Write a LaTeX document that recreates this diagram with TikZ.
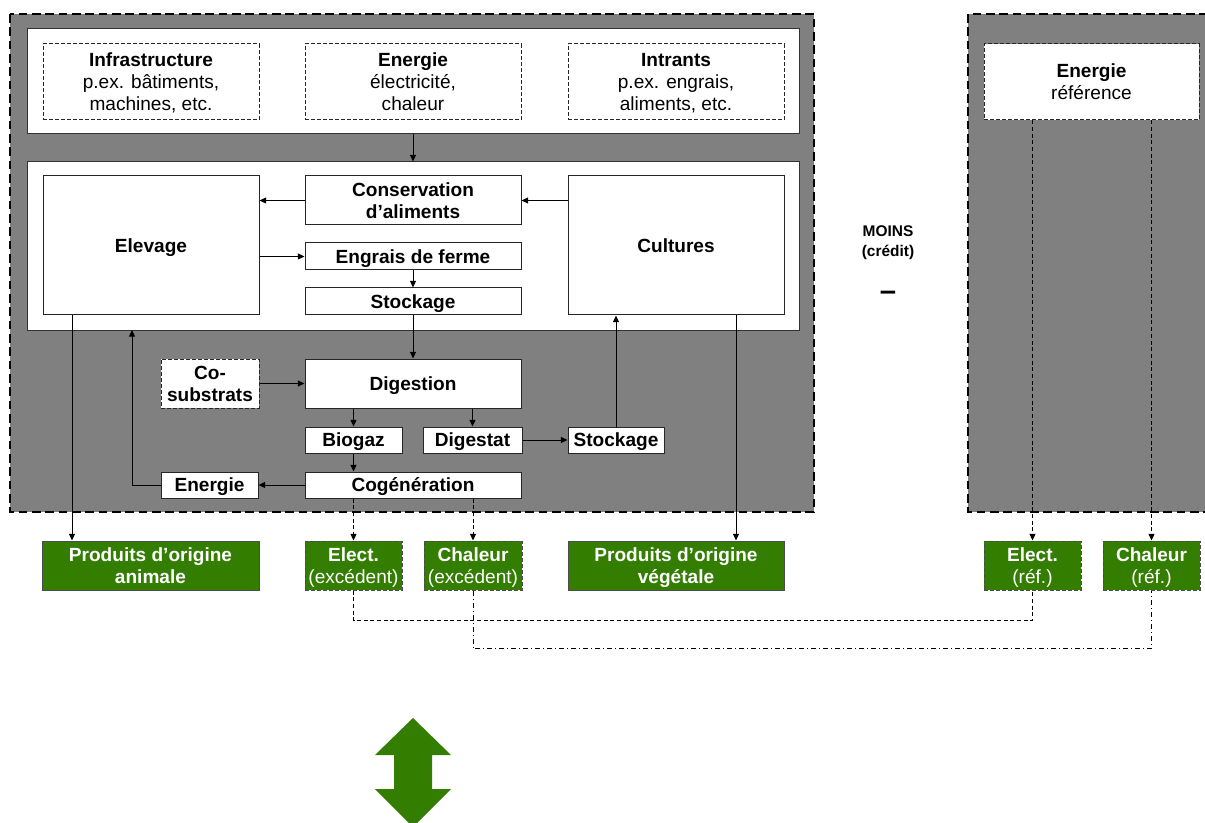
\documentclass[tikz,border=0pt]{standalone}
\usepackage{fontspec}
\setmainfont{Liberation Sans}
\usetikzlibrary{arrows.meta}

\definecolor{panelgris}{RGB}{128,128,128}
\definecolor{vertprod}{RGB}{51,125,0}
\newcommand{\police}{\fontsize{14.3}{16.5}\selectfont}
\newcommand{\policemoins}{\fontsize{11.6}{15}\selectfont}

\tikzset{
  panneau/.style={fill=panelgris, draw=black, line width=1.5pt, dash pattern=on 6.5pt off 3.5pt},
  cadre/.style={draw=black!80, fill=white, line width=0.75pt, inner sep=0pt},
  boite/.style={draw=black!85, fill=white, line width=0.75pt, inner sep=0pt, text depth=0pt, align=center, font=\police\bfseries},
  boitetir/.style={boite, dash pattern=on 3pt off 1.5pt},
  produit/.style={draw=black!70, fill=vertprod, text=white, line width=0.75pt, inner sep=0pt, text depth=0pt, align=center, font=\police\bfseries},
  produittir/.style={produit, dash pattern=on 3pt off 1.5pt},
  fleche/.style={-{Triangle[length=5pt,width=4.5pt]}, line width=0.75pt},
  flechetir/.style={fleche, dash pattern=on 3pt off 2pt},
  liaison/.style={line width=0.75pt, dash pattern=on 3pt off 2pt},
  liaisonpt/.style={line width=0.75pt, dash pattern=on 4pt off 2pt on 1pt off 2pt}
}

\begin{document}
\begin{tikzpicture}[x=0.75pt,y=0.75pt,yscale=-1,xscale=1]
        \clip (0,0) rectangle (1205,823);

        %Panels
        \draw [panneau] (10,14) rectangle (814,512);
        \draw [panneau] (968,14) rectangle (1230,512);

        %White frames
        \draw (413,81.5) node [cadre, minimum width=579pt, minimum height=78.75pt] (apports) {};
        \draw (413,246) node [cadre, minimum width=579pt, minimum height=126pt] (ferme) {};

        % Inputs
        \draw (151,82) node [boitetir, minimum width=162pt, minimum height=57pt] (infra) {Infrastructure\\ \textmd{p.ex. bâtiments,}\\ \textmd{machines, etc.}};
        \draw (413,82) node [boitetir, minimum width=162pt, minimum height=57pt] (energie) {Energie\\ \textmd{électricité,}\\ \textmd{chaleur}};
        \draw (676,82) node [boitetir, minimum width=162pt, minimum height=57pt] (intrants) {Intrants\\ \textmd{p.ex. engrais,}\\ \textmd{aliments, etc.}};

        % Farm
        \draw (151,245.5) node [boite, minimum width=162pt, minimum height=104.25pt] (elevage) {Elevage};
        \draw (413,200.5) node [boite, minimum width=162pt, minimum height=36.75pt] (conserv) {Conservation\\ d’aliments};
        \draw (413,256.5) node [boite, minimum width=162pt, minimum height=20.25pt] (engrais) {Engrais de ferme};
        \draw (413,301.5) node [boite, minimum width=162pt, minimum height=20.25pt] (stock) {Stockage};
        \draw (676,245.5) node [boite, minimum width=162pt, minimum height=104.25pt] (cultures) {Cultures};

        % Biogas plant
        \draw (413,383.5) node [boite, minimum width=162pt, minimum height=36.75pt] (digestion) {Digestion};
        \draw (210,383.5) node [boitetir, minimum width=73.5pt, minimum height=36.75pt] (cosub) {Co-\\ substrats};
        \draw (353.5,440) node [boite, minimum width=72.75pt, minimum height=19.5pt] (biogaz) {Biogaz};
        \draw (472.5,440) node [boite, minimum width=74.25pt, minimum height=19.5pt] (digestat) {Digestat};
        \draw (616,440) node [boite, minimum width=72pt, minimum height=19.5pt] (stockdig) {Stockage};
        \draw (413,485) node [boite, minimum width=162pt, minimum height=19.5pt] (cogen) {Cogénération};
        \draw (209.5,485) node [boite, minimum width=72.75pt, minimum height=19.5pt] (energiecog) {Energie};

        % Products
        \draw (150.5,565.5) node [produit, minimum width=162.75pt, minimum height=36.75pt] (animal) {Produits d’origine\\ animale};
        \draw (353.5,565.5) node [produittir, minimum width=72.75pt, minimum height=36.75pt] (elect) {Elect.\\ \textmd{(excédent)}};
        \draw (473,565.5) node [produittir, minimum width=73.5pt, minimum height=36.75pt] (chaleur) {Chaleur\\ \textmd{(excédent)}};
        \draw (676,565.5) node [produit, minimum width=162pt, minimum height=36.75pt] (vegetal) {Produits d’origine\\ végétale};

        % Reference
        \draw (1091.5,82) node [boitetir, minimum width=161.25pt, minimum height=57pt] (energieref) {Energie\\ \textmd{référence}};
        \draw (1032.5,565.5) node [produittir, minimum width=72.75pt, minimum height=36.75pt] (electref) {Elect.\\ \textmd{(réf.)}};
        \draw (1151.5,565.5) node [produittir, minimum width=72.75pt, minimum height=36.75pt] (chaleurref) {Chaleur\\ \textmd{(réf.)}};

        % Text Node
        \draw (888,241) node [align=center, inner sep=0pt, text depth=0pt, font=\policemoins\bfseries] (moins) {MOINS\\ (crédit)};
        \draw (888,296) node [inner sep=0pt, font=\fontsize{22}{24}\selectfont\bfseries] (signe) {–};

        %Arrows
        \coordinate (xanim) at (72,0);
        \coordinate (xveg) at (736,0);
        \coordinate (retour) at (132,330);
        \draw [fleche] (apports.south) -- (ferme.north);
        \draw [fleche] (conserv.west) -- (elevage.east |- conserv.west);
        \draw [fleche] (cultures.west |- conserv.east) -- (conserv.east);
        \draw [fleche] (elevage.east |- engrais.west) -- (engrais.west);
        \draw [fleche] (engrais.south) -- (stock.north);
        \draw [fleche] (stock.south) -- (digestion.north);
        \draw [fleche] (cosub.east) -- (digestion.west);
        \draw [fleche] (digestion.south -| biogaz.north) -- (biogaz.north);
        \draw [fleche] (digestion.south -| digestat.north) -- (digestat.north);
        \draw [fleche] (biogaz.south) -- (cogen.north -| biogaz.south);
        \draw [fleche] (cogen.west) -- (energiecog.east);
        \draw [fleche] (energiecog.west) -| (retour);
        \draw [fleche] (digestat.east) -- (stockdig.west);
        \draw [fleche] (stockdig.north) -- (cultures.south -| stockdig.north);
        \draw [fleche] (elevage.south -| xanim) -- (animal.north -| xanim);
        \draw [fleche] (cultures.south -| xveg) -- (vegetal.north -| xveg);
        \draw [flechetir] (cogen.south -| elect.north) -- (elect.north);
        \draw [flechetir] (cogen.south -| chaleur.north) -- (chaleur.north);
        \draw [flechetir] (energieref.south -| electref.north) -- (electref.north);
        \draw [flechetir] (energieref.south -| chaleurref.north) -- (chaleurref.north);

        %Links surplus / reference
        \draw [liaison] (elect.south) -- ++(0,30) -| (electref.south);
        \draw [liaisonpt] (chaleur.south) -- ++(0,58) -| (chaleurref.south);

        %Shape: double arrow
        \fill [vertprod] (413,718) -- (451,755) -- (432,755) -- (432,789) -- (451,789) -- (413,827) -- (375,789) -- (394,789) -- (394,755) -- (375,755) -- cycle;

\end{tikzpicture}
\end{document}
